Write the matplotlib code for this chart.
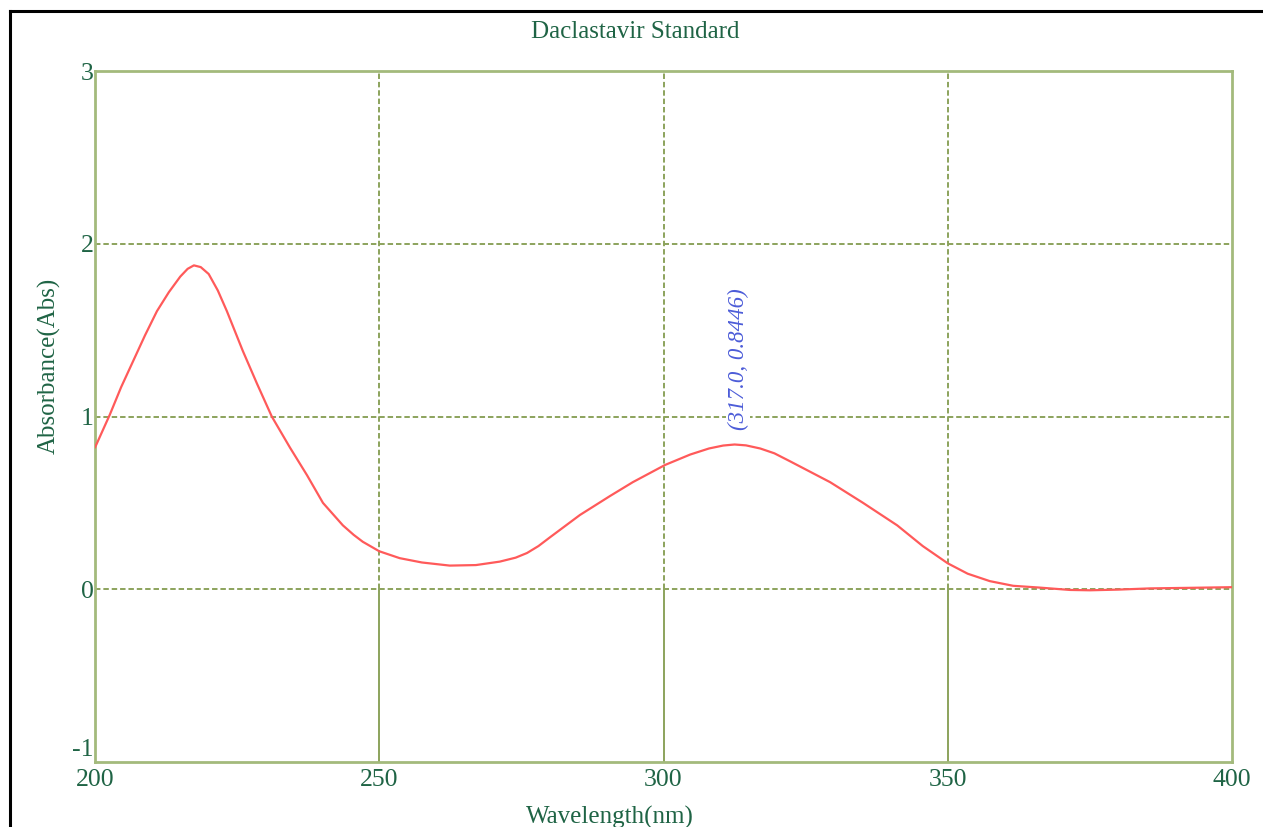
import matplotlib.pyplot as plt
import matplotlib.transforms as mtransforms

plt.rcParams["axes.unicode_minus"] = False

# spectrum
wavelength = [200.0, 202.6, 204.6, 206.7, 208.8, 210.9, 213.0, 215.0, 216.3, 217.4,
              218.6, 220.0, 221.6, 223.2, 226.0, 228.5, 231.1, 234.3, 237.3, 240.1,
              243.6, 245.5, 247.1, 250.0, 253.6, 257.5, 262.4, 267.0, 271.2, 274.0,
              276.0, 278.0, 280.0, 285.3, 290.6, 294.6, 300.3, 304.7, 308.0, 310.5,
              312.5, 314.5, 317.0, 319.5, 322.3, 329.3, 335.1, 341.1, 345.6, 350.0,
              353.5, 357.4, 361.5, 366.0, 371.5, 375.0, 380.0, 385.6, 392.0, 400.0]
absorbance = [0.82, 1.01, 1.17, 1.32, 1.47, 1.61, 1.72, 1.81, 1.855, 1.875,
              1.865, 1.825, 1.73, 1.61, 1.38, 1.19, 1.00, 0.82, 0.66, 0.50,
              0.37, 0.315, 0.275, 0.22, 0.18, 0.155, 0.137, 0.14, 0.16, 0.183,
              0.21, 0.25, 0.30, 0.43, 0.54, 0.62, 0.72, 0.78, 0.815, 0.832,
              0.838, 0.833, 0.815, 0.787, 0.74, 0.62, 0.50, 0.37, 0.25, 0.15,
              0.09, 0.047, 0.02, 0.01, -0.004, -0.006, -0.002, 0.005, 0.008, 0.012]

xticks = [200, 250, 300, 350, 400]
yticks = [-1, 0, 1, 2, 3]
peak_label = "(317.0, 0.8446)"
peak_pos = (313.1, 1.33)

text_col = "#1f6445"
grid_col = "#8ca35c"
spine_col = "#a3ba7c"
serif = ["Liberation Serif", "DejaVu Serif"]
dash = (0, (2.8, 1.5))

fig = plt.figure(figsize=(12.63, 8.27), dpi=100)
ax = fig.add_axes([0.0752, 0.0786, 0.9003, 0.8355])

ax.plot(wavelength, absorbance, color="#ff5a5a", lw=1.6, zorder=3,
        solid_joinstyle="round", solid_capstyle="round")

# grid: horizontal dashed, vertical dashed above 0 and solid below
ax.hlines(yticks[1:-1], xticks[0], xticks[-1], colors=grid_col, lw=1.4, linestyles=[dash], zorder=1)
ax.vlines(xticks[1:-1], 0, yticks[-1], colors=grid_col, lw=1.4, linestyles=[dash], zorder=1)
ax.vlines(xticks[1:-1], yticks[0], 0, colors=grid_col, lw=1.4, zorder=1)

ax.text(peak_pos[0], peak_pos[1], peak_label, rotation=90, ha="center", va="center",
        fontsize=16.5, style="italic", family=serif, color="#4c5cd8",
        bbox=dict(facecolor="white", edgecolor="none", pad=1), zorder=2)

ax.set_xlim(xticks[0], xticks[-1])
ax.set_ylim(yticks[0], yticks[-1])
ax.set_xticks(xticks)
ax.set_yticks(yticks)
ax.tick_params(length=0, labelsize=18.5, labelcolor=text_col, pad=5)
ax.tick_params(axis="y", pad=1)
for lab in ax.get_xticklabels() + ax.get_yticklabels():
    lab.set_family(serif)
# the -1 label sits a little above the bottom edge in the reference
ylabs = ax.get_yticklabels()
ylabs[0].set_transform(ylabs[0].get_transform() +
                       mtransforms.ScaledTranslation(0, 14 / 100, fig.dpi_scale_trans))
for s in ax.spines.values():
    s.set_color(spine_col)
    s.set_linewidth(2)

fig.text(635 / 1263, 1 - 32 / 827, "Daclastavir Standard", ha="center", va="center",
         fontsize=18, family=serif, color=text_col)
fig.text(610 / 1263, 1 - 817 / 827, "Wavelength(nm)", ha="center", va="center",
         fontsize=18, family=serif, color=text_col)
fig.text(49 / 1263, 1 - 366 / 827, "Absorbance(Abs)", ha="center", va="center",
         rotation=90, fontsize=18, family=serif, color=text_col)

# black frame of the screenshot (left and top)
fig.add_artist(plt.Line2D([0.0079, 0.0079], [0, 0.987], transform=fig.transFigure, color="black", lw=2.2))
fig.add_artist(plt.Line2D([0.0079, 1], [0.987, 0.987], transform=fig.transFigure, color="black", lw=2.2))

fig.savefig("out.png", dpi=100)
